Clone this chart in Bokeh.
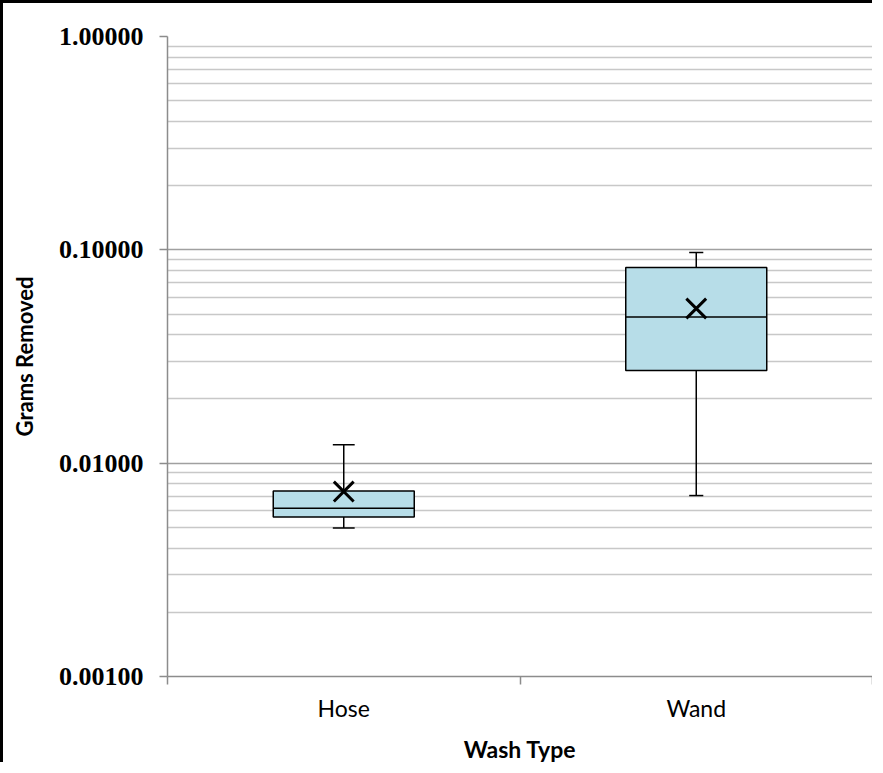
from bokeh.plotting import figure
from bokeh.models import FixedTicker, PrintfTickFormatter, ColumnDataSource
from bokeh.embed import file_html
from bokeh.resources import INLINE

categories = ["Hose", "Wand"]
whisker_low = [0.00497, 0.00705]
q1 = [0.00560, 0.0272]
median = [0.00615, 0.0485]
q3 = [0.00741, 0.0826]
whisker_high = [0.0122, 0.0971]
mean = [0.00736, 0.0531]
y_ticks = [0.001, 0.01, 0.1, 1.0]

xs = [i + 0.5 for i in range(len(categories))]
box_half = 0.2
cap_half = [0.031, 0.02]

src = ColumnDataSource(dict(
    x=xs, lo=whisker_low, q1=q1, med=median, q3=q3, hi=whisker_high, mean=mean,
    xl=[x - box_half for x in xs], xr=[x + box_half for x in xs],
    cl=[x - c for x, c in zip(xs, cap_half)], cr=[x + c for x, c in zip(xs, cap_half)],
))

p = figure(width=872, height=762, x_range=(0, len(categories)), y_range=(0.001, 1),
           y_axis_type="log", output_backend="svg", toolbar_location=None,
           min_border_left=164, min_border_right=3, min_border_top=33, min_border_bottom=80,
           styles={"border-left": "3px solid black", "border-top": "3px solid black"})
p.outline_line_color = None
p.background_fill_color = "white"

# grid
minor = []
for d in y_ticks[:-1]:
    minor += [d * k for k in range(2, 10)]
p.yaxis.ticker = FixedTicker(ticks=y_ticks, minor_ticks=minor)
p.yaxis.formatter = PrintfTickFormatter(format="%.5f")
p.ygrid.grid_line_color = "#a0a0a0"
p.ygrid.grid_line_width = 1.5
p.ygrid.minor_grid_line_color = "#c8c8c8"
p.ygrid.minor_grid_line_width = 1.5
p.xgrid.grid_line_color = None

# axes
p.xaxis.ticker = FixedTicker(ticks=xs, minor_ticks=list(range(len(categories) + 1)))
p.xaxis.major_label_overrides = {x: c for x, c in zip(xs, categories)}
for ax in (p.xaxis, p.yaxis):
    ax.axis_line_color = "#8c8c8c"
    ax.axis_line_width = 1.5
    ax.major_tick_line_color = "#8c8c8c"
    ax.major_tick_line_width = 1.5
    ax.minor_tick_line_color = "#8c8c8c"
    ax.minor_tick_line_width = 1.5
    ax.major_label_text_color = "black"
    ax.axis_label_text_color = "black"
    ax.axis_label_text_font_style = "bold"
    ax.axis_label_text_font = "Lato"

p.xaxis.major_tick_out = 0
p.xaxis.major_tick_in = 0
p.xaxis.minor_tick_out = 8
p.xaxis.minor_tick_in = 0
p.xaxis.major_label_standoff = 9
p.xaxis.major_label_text_font = "Lato"
p.xaxis.major_label_text_font_size = "23px"
p.xaxis.axis_label = "Wash Type"
p.xaxis.axis_label_standoff = 10
p.xaxis.axis_label_text_font_size = "23px"

p.yaxis.major_tick_out = 8
p.yaxis.major_tick_in = 0
p.yaxis.minor_tick_line_color = None
p.yaxis.major_label_standoff = 16
p.yaxis.major_label_text_font = "Liberation Serif"
p.yaxis.major_label_text_font_style = "bold"
p.yaxis.major_label_text_font_size = "26px"
p.yaxis.axis_label = "Grams Removed"
p.yaxis.axis_label_standoff = 18
p.yaxis.axis_label_text_font_size = "22px"

# boxes
p.segment(x0="x", y0="q3", x1="x", y1="hi", source=src, line_color="black", line_width=1.5)
p.segment(x0="x", y0="q1", x1="x", y1="lo", source=src, line_color="black", line_width=1.5)
p.segment(x0="cl", y0="hi", x1="cr", y1="hi", source=src, line_color="black", line_width=1.5)
p.segment(x0="cl", y0="lo", x1="cr", y1="lo", source=src, line_color="black", line_width=1.5)
p.vbar(x="x", width=2 * box_half, bottom="q1", top="q3", source=src,
       fill_color="#b7dde8", line_color="black", line_width=1.5)
p.segment(x0="xl", y0="med", x1="xr", y1="med", source=src, line_color="black", line_width=1.5)
p.scatter(x="x", y="mean", source=src, marker="x", size=28, line_width=3, line_color="black")

open("out.html", "w").write(file_html(p, INLINE))
